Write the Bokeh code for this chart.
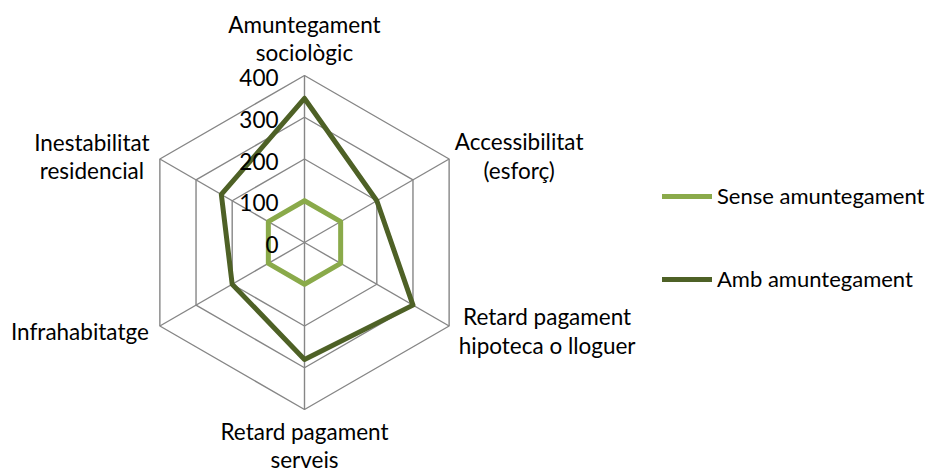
import numpy as np
from bokeh.plotting import figure
from bokeh.models import Legend, LegendItem, ColumnDataSource, Range1d
from bokeh.embed import file_html
from bokeh.resources import INLINE
from bokeh.core.properties import value

# ---- data ----
categories = ["Amuntegament\nsociològic", "Accessibilitat\n(esforç)",
              "Retard pagament\nhipoteca o lloguer", "Retard pagament\nserveis",
              "Infrahabitatge", "Inestabilitat\nresidencial"]
sense = [100, 100, 100, 100, 100, 100]
amb = [345, 200, 300, 280, 200, 230]
ticks = [0, 100, 200, 300, 400]
tick_labels = ["0", "100", "200", "300", "400"]
series_names = ["Sense amuntegament", "Amb amuntegament"]

# ---- layout / style ----
W, H = 938, 474
CX, CY = 304, 242          # centre in canvas px
RMAX = 400
SCALE = 167 / RMAX         # px per unit
FONT_NAME = "Lato"
FONT = value(FONT_NAME)
FSIZE = "22.5px"
GRID = "#868686"
C_SENSE = "#8AAA4A"
C_AMB = "#4E6126"

p = figure(width=W, height=H, output_backend="svg", toolbar_location=None,
           x_range=Range1d(-CX / SCALE, (W - CX) / SCALE),
           y_range=Range1d(-(H - CY) / SCALE, CY / SCALE),
           min_border=0, outline_line_color=None)
p.axis.visible = False
p.grid.visible = False

n = len(categories)
ang = np.pi / 2 - np.arange(n) * 2 * np.pi / n
cosA, sinA = np.cos(ang), np.sin(ang)

# grid rings
ring_xs, ring_ys = [], []
for t in ticks[1:]:
    ring_xs.append(list(t * cosA) + [t * cosA[0]])
    ring_ys.append(list(t * sinA) + [t * sinA[0]])
# spokes
for i in range(n):
    ring_xs.append([0, RMAX * cosA[i]])
    ring_ys.append([0, RMAX * sinA[i]])
p.multi_line(ring_xs, ring_ys, line_color=GRID, line_width=1.4)

# series
def closed(vals):
    v = np.array(vals, dtype=float)
    xs = list(v * cosA) + [v[0] * cosA[0]]
    ys = list(v * sinA) + [v[0] * sinA[0]]
    return xs, ys

xs, ys = closed(sense)
r1 = p.line(xs, ys, line_color=C_SENSE, line_width=5, line_join="round", line_cap="round")
xs, ys = closed(amb)
r2 = p.line(xs, ys, line_color=C_AMB, line_width=5, line_join="round", line_cap="round")

# tick labels (value axis)
p.text(x=[0] * len(ticks), y=ticks, text=tick_labels, text_font=FONT,
       text_font_size=FSIZE, text_color="#000000", text_align="right",
       text_baseline="middle", x_offset=-26, y_offset=2)

# category labels: pixel offsets from the outer vertex
dx_px = [0, 70, 98, 0, -11, -68]
dy_px = [-37, -3, 5, 36, 5, -2.5]
aligns = ["center", "center", "center", "center", "right", "center"]
lx = [RMAX * cosA[i] + dx_px[i] / SCALE for i in range(n)]
ly = [RMAX * sinA[i] - dy_px[i] / SCALE for i in range(n)]
src = ColumnDataSource(dict(x=lx, y=ly, text=categories, align=aligns))
p.text(x="x", y="y", text="text", source=src, text_font=FONT, text_font_size=FSIZE,
       text_color="#000000", text_align="align", text_baseline="middle",
       text_line_height=1.05)

legend = Legend(items=[LegendItem(label=series_names[0], renderers=[r1]),
                       LegendItem(label=series_names[1], renderers=[r2])],
                location=(662, 182), orientation="vertical",
                glyph_width=50, glyph_height=26, label_height=26, label_standoff=5,
                spacing=56, padding=0, margin=0,
                border_line_alpha=0, background_fill_alpha=0,
                label_text_font=FONT_NAME, label_text_font_size="22px",
                label_text_color="#000000")
p.add_layout(legend, "center")

open("out.html", "w").write(file_html(p, INLINE))
